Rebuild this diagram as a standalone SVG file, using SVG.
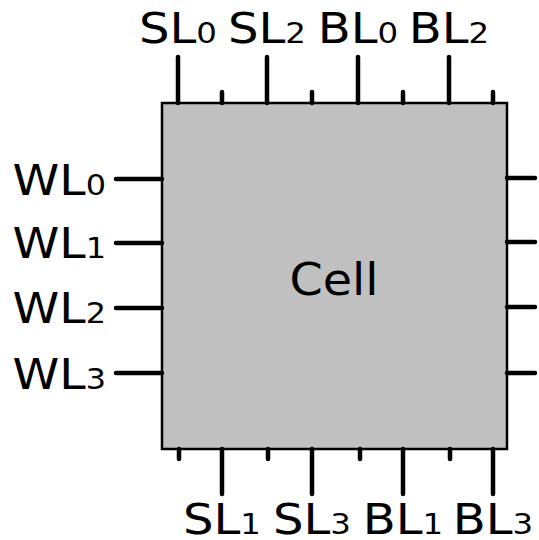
<svg xmlns="http://www.w3.org/2000/svg" width="539" height="540" viewBox="0 0 539 540">
<style>
.t{font-family:"DejaVu Sans",Verdana,sans-serif;font-size:43px;fill:#000}
.s{font-size:29px}
.w{stroke:#000;stroke-width:4.5;stroke-linecap:round;fill:none}
</style>
<rect width="539" height="540" fill="#fff"/>
<g id="cell">
<rect x="162" y="103" width="345" height="346" fill="#c0c0c0" stroke="#000" stroke-width="2.5"/>
<text class="t" transform="translate(334 295) scale(1.06 1)" text-anchor="middle" style="font-size:45px">Cell</text>
</g>
<g id="connectors">
<path class="w" d="M178 57V103M267 57V103M358 57V103M449 57V103M222 92V103M312 92V103M403 92V103M493 92V103"/>
<path class="w" d="M179 449V459M268 449V459M360 449V459M450 449V459M222 449V494M312 449V494M403 449V494M493 449V494"/>
<path class="w" d="M116 179H162M116 243H162M116 308H162M116 373H162"/>
<path class="w" d="M507 178H535M507 242H535M507 307H535M507 373H535"/>
</g>
<g id="labels-top">
<text class="t" transform="translate(178 43) scale(1.12 1)" text-anchor="middle">SL<tspan class="s">0</tspan></text>
<text class="t" transform="translate(267 43) scale(1.12 1)" text-anchor="middle">SL<tspan class="s">2</tspan></text>
<text class="t" transform="translate(358 43) scale(1.12 1)" text-anchor="middle">BL<tspan class="s">0</tspan></text>
<text class="t" transform="translate(449 43) scale(1.12 1)" text-anchor="middle">BL<tspan class="s">2</tspan></text>
</g>
<g id="labels-bottom">
<text class="t" transform="translate(222 534) scale(1.12 1)" text-anchor="middle">SL<tspan class="s">1</tspan></text>
<text class="t" transform="translate(312 534) scale(1.12 1)" text-anchor="middle">SL<tspan class="s">3</tspan></text>
<text class="t" transform="translate(403 534) scale(1.12 1)" text-anchor="middle">BL<tspan class="s">1</tspan></text>
<text class="t" transform="translate(493 534) scale(1.12 1)" text-anchor="middle">BL<tspan class="s">3</tspan></text>
</g>
<g id="labels-left">
<text class="t" transform="translate(106 195) scale(1.1 1)" text-anchor="end">WL<tspan class="s">0</tspan></text>
<text class="t" transform="translate(106 258) scale(1.1 1)" text-anchor="end">WL<tspan class="s">1</tspan></text>
<text class="t" transform="translate(106 323) scale(1.1 1)" text-anchor="end">WL<tspan class="s">2</tspan></text>
<text class="t" transform="translate(106 389) scale(1.1 1)" text-anchor="end">WL<tspan class="s">3</tspan></text>
</g>
</svg>
